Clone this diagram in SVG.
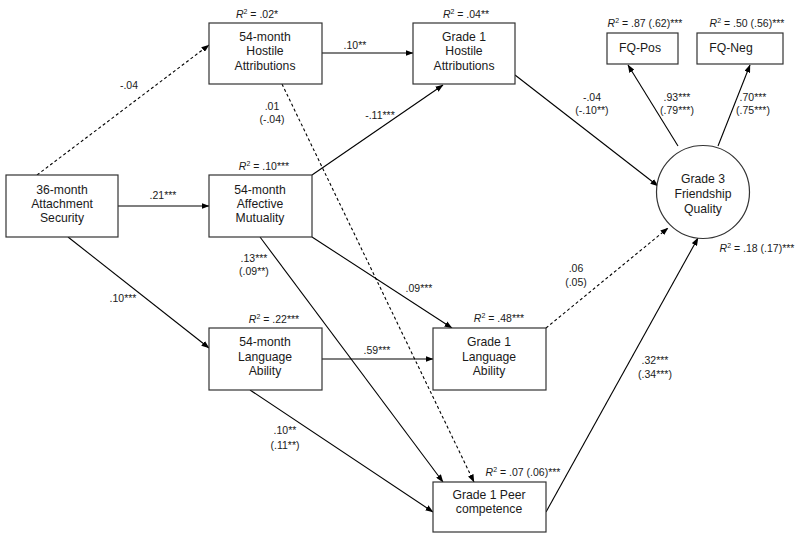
<svg xmlns="http://www.w3.org/2000/svg" width="800" height="537" viewBox="0 0 800 537">
<style>
.box{fill:#fff;stroke:#333;stroke-width:1.2}
.nt{font-family:"Liberation Sans",Arial,sans-serif;font-size:12.2px;text-anchor:middle;fill:#1a1a1a}
.lb{font-family:"Liberation Sans",Arial,sans-serif;font-size:10.5px;text-anchor:middle;fill:#1a1a1a}
.ln{fill:none;stroke:#000;stroke-width:1.1;marker-end:url(#ah)}
.ds{stroke-dasharray:3,2.5}
.it{font-style:italic}
</style>
<defs>
<marker id="ah" markerUnits="userSpaceOnUse" markerWidth="8" markerHeight="6" refX="7.5" refY="3" orient="auto">
<path d="M0,0 L8,3 L0,6 z" fill="#000"/>
</marker>
</defs>
<rect width="800" height="537" fill="#fff"/>
<g id="connectors">
<line class="ln ds" x1="37" y1="175" x2="209" y2="45"/>
<line class="ln" x1="118" y1="206" x2="209" y2="206"/>
<line class="ln" x1="68" y1="237" x2="209" y2="348"/>
<line class="ln" x1="322" y1="53" x2="413" y2="53"/>
<line class="ln" x1="312" y1="175" x2="443" y2="85"/>
<line class="ln ds" x1="282" y1="84" x2="474" y2="482"/>
<line class="ln" x1="312" y1="237" x2="452" y2="328"/>
<line class="ln" x1="260" y1="237" x2="443" y2="482"/>
<line class="ln" x1="322" y1="359" x2="433" y2="359"/>
<line class="ln" x1="250" y1="390" x2="433" y2="512"/>
<line class="ln" x1="515" y1="75" x2="658" y2="186"/>
<line class="ln ds" x1="546" y1="328" x2="668" y2="228"/>
<line class="ln" x1="546" y1="512" x2="698" y2="238"/>
<line class="ln" x1="678" y1="146" x2="628" y2="65"/>
<line class="ln" x1="718" y1="146" x2="750" y2="65"/>
</g>
<g id="labels">
<text class="lb" x="129" y="89">-.04</text>
<text class="lb" x="163" y="199">.21***</text>
<text class="lb" x="123" y="302">.10***</text>
<text class="lb" x="355" y="49">.10**</text>
<text class="lb" x="272" y="110">.01</text>
<text class="lb" x="272" y="123">(-.04)</text>
<text class="lb" x="380" y="119">-.11***</text>
<text class="lb" x="254" y="262">.13***</text>
<text class="lb" x="254" y="275">(.09**)</text>
<text class="lb" x="419" y="292">.09***</text>
<text class="lb" x="377" y="354">.59***</text>
<text class="lb" x="285" y="434">.10**</text>
<text class="lb" x="285" y="449">(.11**)</text>
<text class="lb" x="592" y="101">-.04</text>
<text class="lb" x="592" y="114">(-.10**)</text>
<text class="lb" x="677" y="101">.93***</text>
<text class="lb" x="677" y="114">(.79***)</text>
<text class="lb" x="753" y="101">.70***</text>
<text class="lb" x="753" y="114">(.75***)</text>
<text class="lb" x="576" y="272">.06</text>
<text class="lb" x="576" y="286">(.05)</text>
<text class="lb" x="655" y="364">.32***</text>
<text class="lb" x="655" y="378">(.34***)</text>
<text class="lb" x="257" y="18"><tspan class="it">R</tspan><tspan font-size="7" dy="-4">2</tspan><tspan dy="4"> = .02*</tspan></text>
<text class="lb" x="264" y="170"><tspan class="it">R</tspan><tspan font-size="7" dy="-4">2</tspan><tspan dy="4"> = .10***</tspan></text>
<text class="lb" x="274" y="323"><tspan class="it">R</tspan><tspan font-size="7" dy="-4">2</tspan><tspan dy="4"> = .22***</tspan></text>
<text class="lb" x="466" y="18"><tspan class="it">R</tspan><tspan font-size="7" dy="-4">2</tspan><tspan dy="4"> = .04**</tspan></text>
<text class="lb" x="499" y="322"><tspan class="it">R</tspan><tspan font-size="7" dy="-4">2</tspan><tspan dy="4"> = .48***</tspan></text>
<text class="lb" x="523" y="476"><tspan class="it">R</tspan><tspan font-size="7" dy="-4">2</tspan><tspan dy="4"> = .07 (.06)***</tspan></text>
<text class="lb" x="645" y="27"><tspan class="it">R</tspan><tspan font-size="7" dy="-4">2</tspan><tspan dy="4"> = .87 (.62)***</tspan></text>
<text class="lb" x="747" y="27"><tspan class="it">R</tspan><tspan font-size="7" dy="-4">2</tspan><tspan dy="4"> = .50 (.56)***</tspan></text>
<text class="lb" x="757" y="252"><tspan class="it">R</tspan><tspan font-size="7" dy="-4">2</tspan><tspan dy="4"> = .18 (.17)***</tspan></text>
</g>
<g id="n-attach">
<rect class="box" x="6" y="175" width="112" height="62"/>
<text class="nt" x="62" y="194">36-month</text>
<text class="nt" x="62" y="208">Attachment</text>
<text class="nt" x="62" y="222">Security</text>
</g>
<g id="n-hostile54">
<rect class="box" x="209" y="23" width="113" height="61"/>
<text class="nt" x="265" y="41">54-month</text>
<text class="nt" x="265" y="55">Hostile</text>
<text class="nt" x="265" y="70">Attributions</text>
</g>
<g id="n-affective54">
<rect class="box" x="209" y="175" width="103" height="62"/>
<text class="nt" x="260" y="194">54-month</text>
<text class="nt" x="260" y="208">Affective</text>
<text class="nt" x="260" y="222">Mutuality</text>
</g>
<g id="n-language54">
<rect class="box" x="209" y="328" width="113" height="62"/>
<text class="nt" x="265" y="346">54-month</text>
<text class="nt" x="265" y="361">Language</text>
<text class="nt" x="265" y="375">Ability</text>
</g>
<g id="n-hostileG1">
<rect class="box" x="413" y="23" width="102" height="61"/>
<text class="nt" x="464" y="41">Grade 1</text>
<text class="nt" x="464" y="55">Hostile</text>
<text class="nt" x="464" y="70">Attributions</text>
</g>
<g id="n-languageG1">
<rect class="box" x="433" y="328" width="113" height="62"/>
<text class="nt" x="489" y="346">Grade 1</text>
<text class="nt" x="489" y="361">Language</text>
<text class="nt" x="489" y="375">Ability</text>
</g>
<g id="n-peerG1">
<rect class="box" x="433" y="482" width="113" height="50"/>
<text class="nt" x="489" y="499">Grade 1 Peer</text>
<text class="nt" x="489" y="513">competence</text>
</g>
<g id="n-fqpos">
<rect class="box" x="607" y="33" width="71" height="31"/>
<text class="nt" x="640" y="52">FQ-Pos</text>
</g>
<g id="n-fqneg">
<rect class="box" x="697" y="33" width="86" height="31"/>
<text class="nt" x="731" y="52">FQ-Neg</text>
</g>
<g id="n-friendship">
<circle class="box" cx="703" cy="192" r="46.5"/>
<text class="nt" x="703" y="183">Grade 3</text>
<text class="nt" x="703" y="198">Friendship</text>
<text class="nt" x="703" y="213">Quality</text>
</g>
</svg>
